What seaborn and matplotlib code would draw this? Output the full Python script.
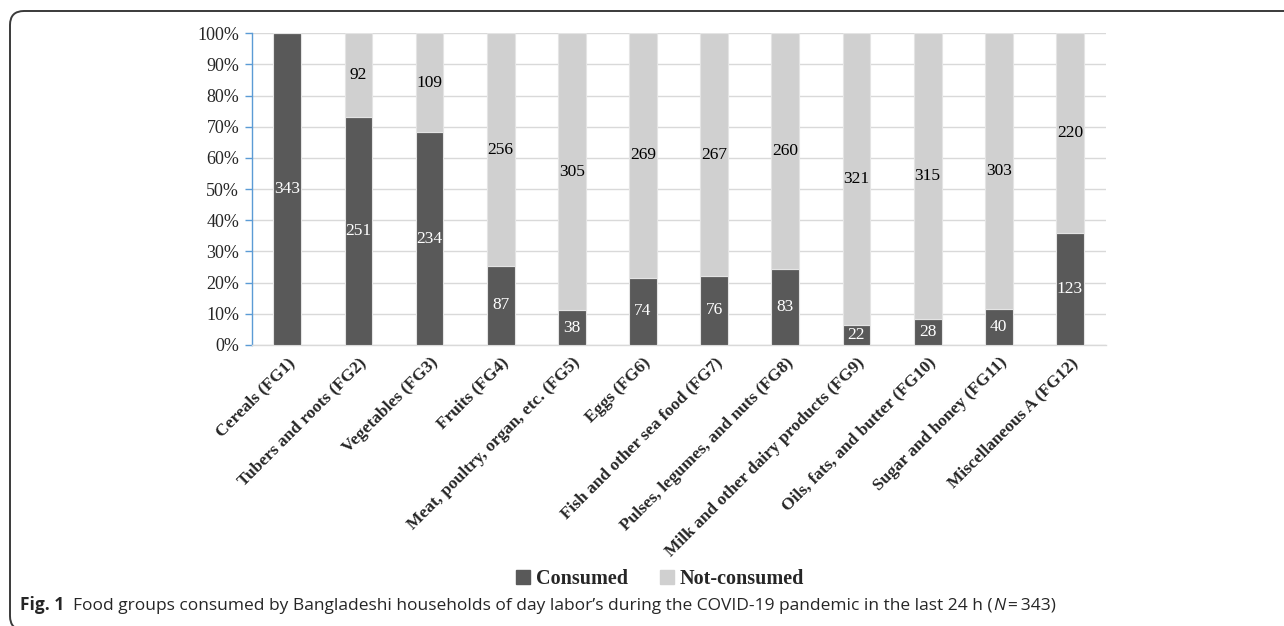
import pandas as pd
import matplotlib.pyplot as plt
import seaborn as sns
from matplotlib.patches import FancyBboxPatch
from matplotlib.transforms import IdentityTransform
from matplotlib.ticker import PercentFormatter, FixedLocator

# ---------------- DATA ----------------
food_groups = [
    "Cereals (FG1)", "Tubers and roots (FG2)", "Vegetables (FG3)", "Fruits (FG4)",
    "Meat, poultry, organ, etc. (FG5)", "Eggs (FG6)", "Fish and other sea food (FG7)",
    "Pulses, legumes, and nuts (FG8)", "Milk and other dairy products (FG9)",
    "Oils, fats, and butter (FG10)", "Sugar and honey (FG11)", "Miscellaneous A (FG12)",
]
consumed = [343, 251, 234, 87, 38, 74, 76, 83, 22, 28, 40, 123]
not_consumed = [0, 92, 109, 256, 305, 269, 267, 260, 321, 315, 303, 220]
status_levels = ["Consumed", "Not-consumed"]
colors = {"Consumed": "#595959", "Not-consumed": "#d0d0d0"}

df = pd.DataFrame({
    "group": food_groups * 2,
    "status": ["Consumed"] * len(food_groups) + ["Not-consumed"] * len(food_groups),
    "count": consumed + not_consumed,
})
df["group"] = pd.Categorical(df["group"], categories=food_groups, ordered=True)

# ---------------- PLOT ----------------
sns.set_style("white")
plt.rcParams["font.family"] = ["Liberation Serif", "DejaVu Serif"]

fig = plt.figure(figsize=(12.84, 6.26), dpi=100)
ax = fig.add_axes([0.196, 0.449, 0.665, 0.498])

sns.histplot(
    data=df, x="group", hue="status", weights="count", multiple="fill",
    hue_order=status_levels[::-1], palette=colors, discrete=True, shrink=0.39,
    alpha=1, edgecolor="#e4e4e4", linewidth=0.8, legend=False, ax=ax, zorder=3,
)

# value labels
for cont in ax.containers:
    fc = cont.patches[0].get_facecolor()
    is_dark = fc[0] < 0.5
    vals = consumed if is_dark else not_consumed
    labels = [str(v) if v > 0 else "" for v in vals]
    ax.bar_label(cont, labels=labels, label_type="center", fontsize=12.5,
                 color="white" if is_dark else "black")

ax.set_ylim(0, 1)
ax.set_xlim(-0.5, len(food_groups) - 0.5)
ax.yaxis.set_major_locator(FixedLocator([i / 10 for i in range(11)]))
ax.yaxis.set_major_formatter(PercentFormatter(1.0, decimals=0))
ax.set_xlabel("")
ax.set_ylabel("")
ax.grid(axis="y", color="#d9d9d9", linewidth=1, zorder=0)
ax.set_axisbelow(True)

ax.set_xticks(range(len(food_groups)))
ax.set_xticklabels(food_groups, rotation=45, ha="right", rotation_mode="anchor",
                   fontweight="bold", fontsize=12.5)
ax.set_xticks([i - 0.5 for i in range(len(food_groups) + 1)], minor=True)
ax.tick_params(axis="x", which="major", length=0, pad=7)
ax.tick_params(axis="x", which="minor", length=5, color="#d9d9d9", width=1)
ax.tick_params(axis="y", length=5, color="#5b9bd5", width=1, labelsize=13, left=True, pad=4)

for side in ["top", "right"]:
    ax.spines[side].set_visible(False)
ax.spines["left"].set_color("#5b9bd5")
ax.spines["left"].set_linewidth(1)
ax.spines["bottom"].set_color("#d9d9d9")
ax.spines["bottom"].set_linewidth(1)

# legend
handles = [plt.Rectangle((0, 0), 1, 1, color=colors[s]) for s in status_levels]
fig.legend(handles, status_levels, loc="center", bbox_to_anchor=(660 / 1284, 1 - 579 / 626),
           ncol=2, frameon=False, handlelength=0.7, handleheight=0.7, handletextpad=0.3,
           columnspacing=1.6, prop={"weight": "bold", "size": 14.5})

# caption
cap_font = ["Open Sans", "DejaVu Sans"]
t1 = fig.text(20 / 1284, 1 - 605 / 626, "Fig. 1", family=cap_font, fontweight="bold",
              fontsize=12.5, va="center")
t2 = ax.annotate("  Food groups consumed by Bangladeshi households of day labor\u2019s during the "
                 "COVID-19 pandemic in the last 24 h (", xy=(1, 0), xycoords=t1,
                 va="bottom", family=cap_font, fontsize=12.5, annotation_clip=False)
t3 = ax.annotate("N", xy=(1, 0), xycoords=t2, va="bottom", family=cap_font,
                 fontstyle="italic", fontsize=12.5, annotation_clip=False)
ax.annotate("\u2009=\u2009343)", xy=(1, 0), xycoords=t3, va="bottom", family=cap_font,
            fontsize=12.5, annotation_clip=False)

# rounded frame
frame = FancyBboxPatch((10, -4), 1320, 619, boxstyle="round,pad=0,rounding_size=14",
                       transform=IdentityTransform(), facecolor="none",
                       edgecolor="#3a3a3a", linewidth=1.4, clip_on=False)
fig.add_artist(frame)

fig.savefig("out.png", dpi=100)
